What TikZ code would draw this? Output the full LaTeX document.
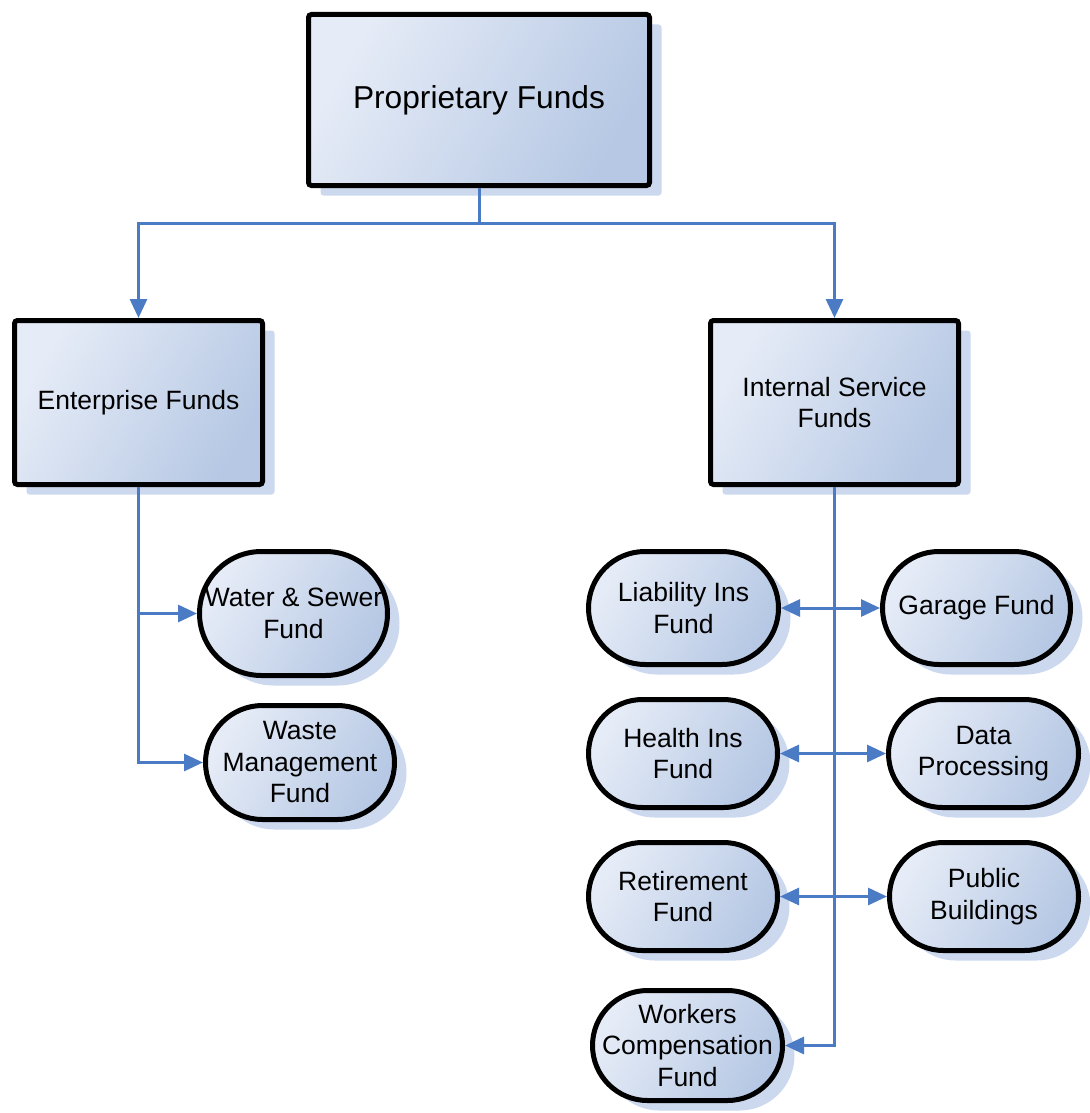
\documentclass[tikz,border=0pt]{standalone}
\usepackage{fontspec}
\setmainfont{Liberation Sans}
\usetikzlibrary{arrows.meta,shadows,shapes.misc}

\definecolor{linkblue}{RGB}{74,123,196}
\definecolor{boxlight}{RGB}{230,236,247}
\definecolor{boxdark}{RGB}{182,200,228}
\definecolor{shadowblue}{RGB}{203,216,238}

\tikzset{
  fundbase/.style={
    draw=black, line width=5pt, inner sep=0pt, align=center,
    top color=boxlight, bottom color=boxdark, shading angle=60,
    drop shadow={shadow xshift=12pt, shadow yshift=-10pt, fill=shadowblue, opacity=1},
    font=\fontsize{26.5}{31.5}\selectfont
  },
  headbox/.style={fundbase, rounded corners=3pt},
  fundpill/.style={fundbase, rounded rectangle, rounded rectangle arc length=180},
  conn/.style={draw=linkblue, line width=3pt,
    -{Triangle[length=19pt,width=17pt]}},
  biconn/.style={draw=linkblue, line width=3pt,
    {Triangle[length=19pt,width=17pt]}-{Triangle[length=19pt,width=17pt]}}
}

\begin{document}
\begin{tikzpicture}[x=1pt,y=-1pt]
\useasboundingbox (0,0) rectangle (1089,1113);

% top level
\node[headbox, minimum width=341pt, minimum height=171pt,
      font=\fontsize{31.7}{38}\selectfont] (pf) at (479,100) {Proprietary Funds};

% second level
\node[headbox, minimum width=248pt, minimum height=164pt] (ef) at (138.5,402.5) {Enterprise Funds};
\node[headbox, minimum width=248pt, minimum height=164pt] (isf) at (834.5,402.5) {Internal Service\\Funds};

% enterprise funds
\node[fundpill, minimum width=188pt, minimum height=124pt] (ws) at (293.5,613.5) {Water \& Sewer\\Fund};
\node[fundpill, minimum width=189pt, minimum height=114pt] (wm) at (300,762.5) {Waste\\Management\\Fund};

% internal service funds
\node[fundpill, minimum width=190pt, minimum height=113pt] (li) at (683.5,608) {Liability Ins\\Fund};
\node[fundpill, minimum width=188pt, minimum height=113pt] (gf) at (976.5,608) {Garage Fund};
\node[fundpill, minimum width=189pt, minimum height=108pt] (hi) at (683,753.5) {Health Ins\\Fund};
\node[fundpill, minimum width=190pt, minimum height=108pt] (dp) at (983.5,753.5) {Data\\Processing};
\node[fundpill, minimum width=189pt, minimum height=108pt] (rf) at (683,896.5) {Retirement\\Fund};
\node[fundpill, minimum width=189pt, minimum height=108pt] (pb) at (984,896.5) {Public\\Buildings};
% the long middle word is boxed narrower so the pill keeps its width
\node[fundpill, minimum width=190pt, minimum height=110pt] (wc) at (687.5,1045.5)
  {Workers\\\makebox[120pt]{Compensation}\\Fund};

% connectors
\coordinate (bus) at (479,223);
\draw[conn] (pf.south) -- (bus) -| (ef.north);
\draw[conn] (bus) -| (isf.north);

\draw[conn] (ef.south) |- (ws.west);
\draw[conn] (ef.south) |- (wm.west);

\draw[conn] (isf.south) |- (wc.east);
\draw[biconn] (li.east) -- (gf.west);
\draw[biconn] (hi.east) -- (dp.west);
\draw[biconn] (rf.east) -- (pb.west);
\end{tikzpicture}
\end{document}
